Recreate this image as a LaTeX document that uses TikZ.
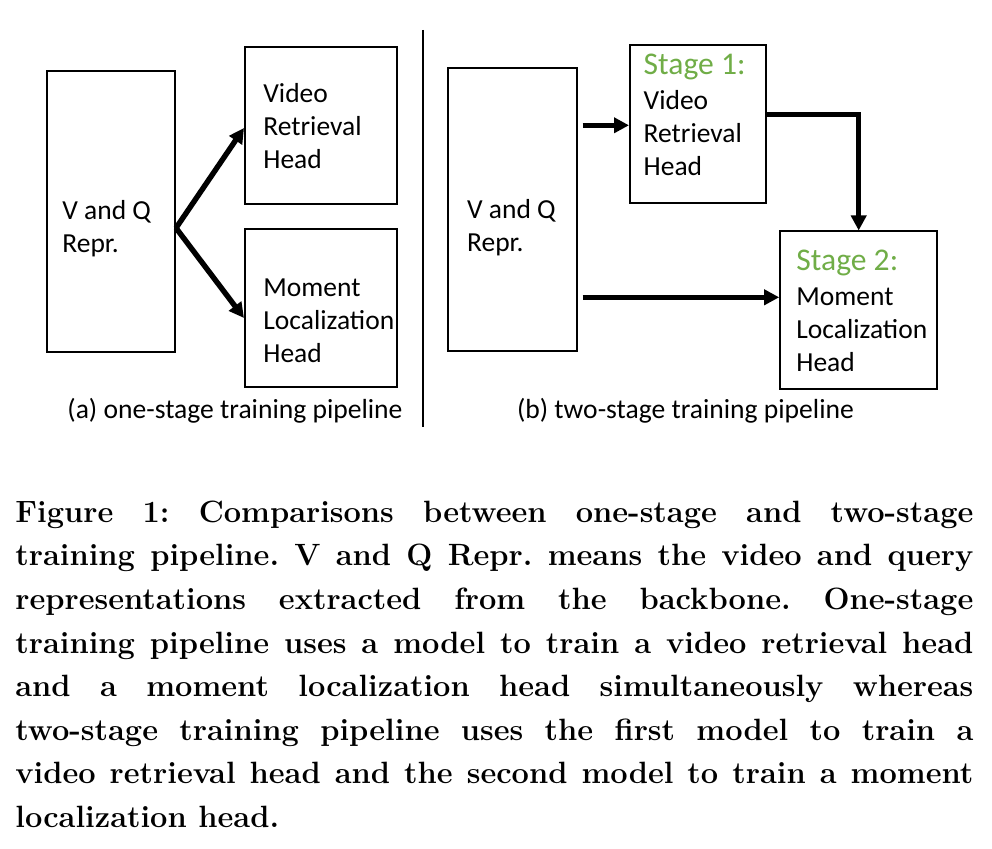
\documentclass[tikz,border=0pt]{standalone}
\usepackage{fontspec}
\newfontfamily\diafont{Carlito}
\usetikzlibrary{arrows.meta}
\definecolor{stagegreen}{RGB}{112,173,71}
\newcommand{\etape}[1]{\textcolor{stagegreen}{\fontsize{15.8}{16.5}\selectfont #1}}
\begin{document}
\begin{tikzpicture}[x=0.5pt,y=-0.5pt]
\tikzset{boite/.style={draw, line width=1pt, inner sep=0pt},
  texte/.style={inner sep=0pt, align=left, anchor=north west, font=\diafont\fontsize{13.75}{16.5}\selectfont},
  legende/.style={inner sep=0pt, anchor=base, font=\diafont\fontsize{13.8}{16.5}\selectfont},
  fleche/.style={line width=2.7pt, -{Triangle[length=7.5pt,width=7.5pt]}}}
\useasboundingbox (0,0) rectangle (992,849);
\node[boite, minimum width=64pt, minimum height=140.5pt] (vqa) at (111,211.5) {};
\node[boite, minimum width=76pt, minimum height=78.5pt] (vra) at (321,125.5) {};
\node[boite, minimum width=76pt, minimum height=79pt] (mla) at (321,308) {};
\node[boite, minimum width=64.5pt, minimum height=141.5pt] (vqb) at (512.5,209.5) {};
\node[boite, minimum width=68pt, minimum height=79pt] (s1) at (698,124) {};
\node[boite, minimum width=78.5pt, minimum height=79pt] (s2) at (858.7,310.5) {};
\node[texte] (vqaT) at (62,200) {V and Q\\Repr.};
\node[texte] (vraT) at (263,82.6) {Video\\Retrieval\\Head};
\node[texte] (mlaT) at (263,278.5) {Moment\\Localization\\Head};
\node[texte] (vqbT) at (466.7,199.4) {V and Q\\Repr.};
\node[texte] (s1T) at (643.3,53.5) {\etape{Stage 1:}\\[1pt]Video\\Retrieval\\Head};
\node[texte] (s2T) at (796,249.5) {\etape{Stage 2:}\\[1pt]Moment\\Localization\\Head};
\node[legende] (capa) at (235,419) {(a) one-stage training pipeline};
\node[legende] (capb) at (685.5,419) {(b) two-stage training pipeline};
\coordinate (sepT) at (423,30);
\coordinate (sepB) at (423,427);
\draw[line width=0.7pt] (sepT) -- (sepB);
\draw[fleche] ([yshift=-8.25pt]vqa.east) -- ([yshift=-1.25pt]vra.west);
\draw[fleche] ([yshift=-8.25pt]vqa.east) -- ([yshift=-5pt]mla.west);
\coordinate (s1in) at ([yshift=-0.65pt]s1.west);
\coordinate (s2in) at ([yshift=6.6pt]s2.west);
\draw[fleche] ([xshift=2.35pt]vqb.east |- s1in) -- (s1in);
\draw[fleche] ([xshift=2.35pt]vqb.east |- s2in) -- (s2in);
\draw[fleche] ([yshift=4.65pt]s1.east) -| (s2.north);
\node[inner sep=0pt, anchor=north west, text width=479pt, align=justify,
  font=\bfseries\fontsize{15.4}{21.8}\selectfont\frenchspacing] (fig) at (15,500.5)
  {Figure 1: Comparisons between one-stage and two-stage\linebreak
   training pipeline. V and Q Repr. means the video and query\linebreak
   representations extracted from the backbone. One-stage\linebreak
   training pipeline uses a model to train a video retrieval head\linebreak
   and a moment localization head simultaneously whereas\linebreak
   two-stage training pipeline uses the first model to train a\linebreak
   video retrieval head and the second model to train a moment\linebreak
   localization head.};
\end{tikzpicture}
\end{document}
